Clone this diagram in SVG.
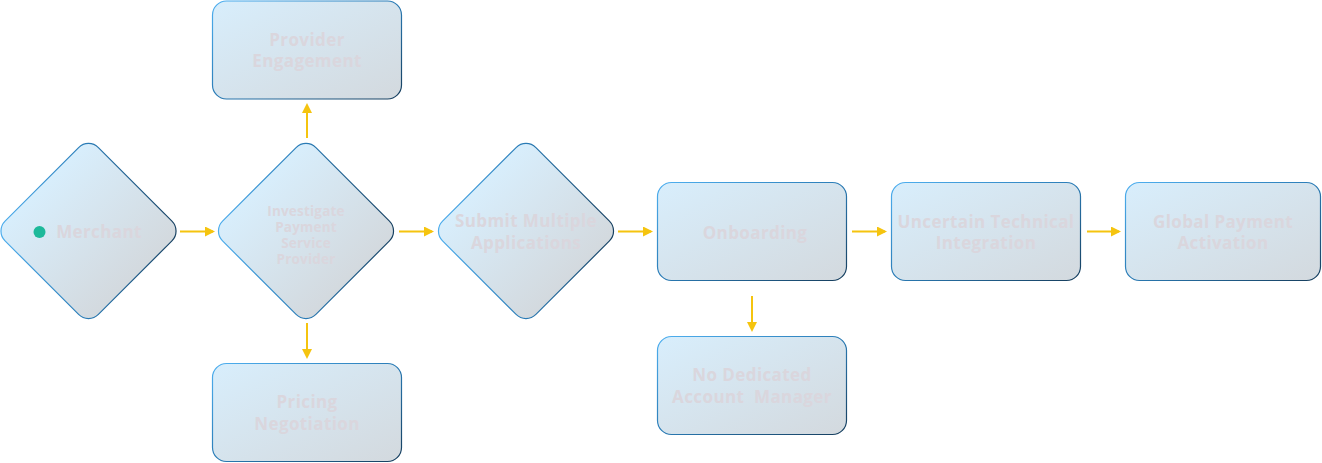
<svg xmlns="http://www.w3.org/2000/svg" width="1322" height="463" viewBox="0 0 1322 463">
<defs>
<linearGradient id="fr" x1="0" y1="0" x2="1" y2="1"><stop offset="0" stop-color="#d8eefc"/><stop offset="1" stop-color="#d3d9de"/></linearGradient>
<linearGradient id="sr" x1="0" y1="0" x2="1" y2="1"><stop offset="0" stop-color="#4fb0f0"/><stop offset="0.5" stop-color="#2a7bb5"/><stop offset="1" stop-color="#163d5c"/></linearGradient>
<linearGradient id="fd" x1="0" y1="0.5" x2="1" y2="0.5"><stop offset="0" stop-color="#d8eefc"/><stop offset="1" stop-color="#d3d9de"/></linearGradient>
<linearGradient id="sd" x1="0" y1="1" x2="1" y2="0"><stop offset="0" stop-color="#4fb0f0"/><stop offset="0.5" stop-color="#2a7bb5"/><stop offset="1" stop-color="#163d5c"/></linearGradient>
<marker id="ah" markerWidth="10" markerHeight="10" refX="8" refY="5" orient="auto" markerUnits="userSpaceOnUse"><path d="M0,0 L10,5 L0,10 z" fill="#f5c40f"/></marker>
<style>
.r{fill:url(#fr);stroke:url(#sr);stroke-width:1.2}
.d{fill:url(#fd);stroke:url(#sd);stroke-width:1.2}
.t{font-family:"Open Sans","Noto Sans",sans-serif;font-weight:700;font-size:17px;letter-spacing:0.4px;fill:#dad6dd;text-anchor:middle;white-space:pre}
.s{font-size:13.5px;letter-spacing:0.2px}
.c{stroke:#f5c40f;stroke-width:2;fill:none;marker-end:url(#ah)}
</style>
</defs>
<g id="connectors">
<line class="c" x1="180" y1="231.5" x2="213" y2="231.5"/>
<line class="c" x1="399" y1="231.5" x2="432" y2="231.5"/>
<line class="c" x1="618" y1="231.5" x2="651" y2="231.5"/>
<line class="c" x1="852" y1="231.5" x2="885" y2="231.5"/>
<line class="c" x1="1087" y1="231.5" x2="1119" y2="231.5"/>
<line class="c" x1="307" y1="138" x2="307" y2="105"/>
<line class="c" x1="307" y1="323" x2="307" y2="357"/>
<line class="c" x1="752" y1="296" x2="752" y2="330"/>
</g>
<g id="merchant">
<rect class="d" x="-66" y="-66" width="132" height="132" rx="14" transform="translate(88.5,231) rotate(45)"/>
<circle cx="39.5" cy="232" r="6" fill="#1db99a"/>
<text class="t" x="99" y="238">Merchant</text>
</g>
<g id="investigate">
<rect class="d" x="-66" y="-66" width="132" height="132" rx="14" transform="translate(306,231) rotate(45)"/>
<text class="t s" x="306" y="216">Investigate</text>
<text class="t s" x="306" y="232">Payment</text>
<text class="t s" x="306" y="248">Service</text>
<text class="t s" x="306" y="264">Provider</text>
</g>
<g id="submit">
<rect class="d" x="-66" y="-66" width="132" height="132" rx="14" transform="translate(526,231) rotate(45)"/>
<text class="t" x="526" y="227">Submit Multiple</text>
<text class="t" x="526" y="249">Applications</text>
</g>
<g id="provider">
<rect class="r" x="212.5" y="1" width="189" height="98" rx="14"/>
<text class="t" x="307" y="46">Provider</text>
<text class="t" x="307" y="67">Engagement</text>
</g>
<g id="pricing">
<rect class="r" x="212.5" y="363.5" width="189" height="98" rx="14"/>
<text class="t" x="307" y="408">Pricing</text>
<text class="t" x="307" y="430">Negotiation</text>
</g>
<g id="onboarding">
<rect class="r" x="657.5" y="182.5" width="189" height="98" rx="14"/>
<text class="t" x="755" y="239">Onboarding</text>
</g>
<g id="nodedicated">
<rect class="r" x="657.5" y="336.5" width="189" height="98" rx="14"/>
<text class="t" x="752" y="381">No Dedicated</text>
<text class="t" x="752" y="403" xml:space="preserve">Account  Manager</text>
</g>
<g id="uncertain">
<rect class="r" x="891.5" y="182.5" width="189" height="98" rx="14"/>
<text class="t" x="986" y="228">Uncertain Technical</text>
<text class="t" x="986" y="249">Integration</text>
</g>
<g id="global">
<rect class="r" x="1125.5" y="182.5" width="195" height="98" rx="14"/>
<text class="t" x="1223" y="228">Global Payment</text>
<text class="t" x="1223" y="249">Activation</text>
</g>
</svg>
